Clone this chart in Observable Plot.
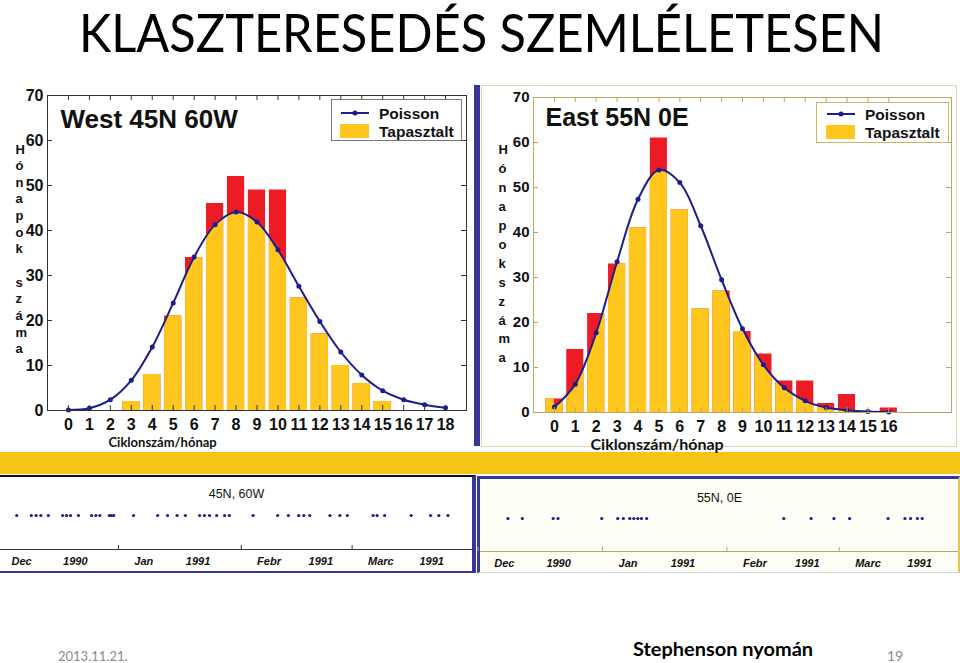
<!DOCTYPE html>
<html><head><meta charset="utf-8">
<script src="https://cdn.jsdelivr.net/npm/d3@7"></script>
<script src="https://cdn.jsdelivr.net/npm/@observablehq/plot@0.6"></script>
<style>
body{margin:0;background:#fff;}
#page{position:relative;width:960px;height:663px;overflow:hidden;background:#fff;font-family:"Liberation Sans",Arial,sans-serif;}
.abs{position:absolute;}
</style></head><body><div id="page"></div>
<script>
// ---------- data ----------
const titleText = "KLASZTERESEDÉS SZEMLÉLETESEN";
const westTitle = "West 45N 60W";
const eastTitle = "East 55N 0E";
const xAxisLabel = "Ciklonszám/hónap";
const yLabelWest = ["H","ó","n","a","p","o","k","\u00a0","s","z","á","m","a"];
const yLabelEast = ["H","ó","n","a","p","o","k","s","z","á","m","a"];
const legendPoisson = "Poisson";
const legendObserved = "Tapasztalt";

const westK = [0,1,2,3,4,5,6,7,8,9,10,11,12,13,14,15,16,17,18];
const westObserved = [0,0,0,2,8,21,34,46,52,49,49,25,17,10,6,2,0,0,0];
const westPoisson = [0.1,0.5,2.4,6.7,14.1,23.9,34.1,41.3,44.1,41.9,35.7,27.6,19.8,13.0,7.9,4.4,2.4,1.3,0.6];

const eastK = [0,1,2,3,4,5,6,7,8,9,10,11,12,13,14,15,16];
const eastObserved = [3,14,22,33,41,61,45,23,27,18,13,7,7,2,4,0,1];
const eastPoisson = [1.2,6.3,17.7,33.5,47.4,53.9,51.1,41.5,29.5,18.6,10.6,5.5,2.6,1.1,0.5,0.2,0.1];

const westXTicks = [0,1,2,3,4,5,6,7,8,9,10,11,12,13,14,15,16,17,18];
const eastXTicks = [0,1,2,3,4,5,6,7,8,9,10,11,12,13,14,15,16];
const yTicks = [0,10,20,30,40,50,60,70];

// cyclone passages, days after 1 Dec 1990
const westStripTitle = "45N, 60W";
const eastStripTitle = "55N, 0E";
const westDays = [5.3,9.0,10.2,11.4,13.3,16.9,17.9,18.9,20.9,24.2,25.3,26.3,28.7,29.2,29.8,34.8,40.9,43.4,45.8,47.9,51.5,52.7,54.0,55.8,57.8,59.0,65.0,71.2,73.9,76.5,77.8,79.3,84.4,86.9,88.8,95.3,96.3,98.2,104.9,109.8,111.9,114.2];
const eastDays = [7.4,11.0,18.7,19.9,30.8,34.8,36.2,37.8,38.8,39.8,40.7,42.0,76.2,83.0,88.7,92.6,102.2,106.4,107.8,109.5,110.7];
const monthStarts = ["1990-12-01","1991-01-01","1991-02-01","1991-03-01"];
const monthNames = ["Dec","Jan","Febr","Marc"];
const monthYears = ["1990","1991","1991","1991"];
const periodStart = "1990-12-01";
const periodEnd = "1991-04-01";

const footerDate = "2013.11.21.";
const footerSource = "Stephenson nyomán";
const footerPage = "19";

// ---------- styles ----------
const RED = "#ED1C24", YELLOW = "#FFC61E", NAVY = "#1C1C8E", BORDER = "#35359A", BAND = "#F6C417";
const page = document.getElementById("page");
function box(x,y,w,h,css){const d=document.createElement("div");d.className="abs";Object.assign(d.style,{left:x+"px",top:y+"px",width:w+"px",height:h+"px"},css||{});page.appendChild(d);return d;}

// title
const tb = box(0,0,960,70);
tb.innerHTML = `<svg width="960" height="70"><text x="79" y="52" font-family="Lato" font-size="53" textLength="805" lengthAdjust="spacingAndGlyphs" fill="#000">${titleText}</text></svg>`;

// band (drawn first so chart labels stay on top)
box(0,452,960,22,{background:BAND});

// ---------- histogram charts ----------
let clipId = 0;
function histChart(o){
  const rows = o.k.map((k,i)=>({k, obs:o.obs[i], poi:o.poi[i]}));
  const fh = o.height-o.mt-o.mb, fw = o.width-o.ml-o.mr;
  const svg = Plot.plot({
    width:o.width, height:o.height, marginLeft:o.ml, marginRight:o.mr, marginTop:o.mt, marginBottom:o.mb,
    style:{background:"transparent", fontFamily:"Liberation Sans, Arial, sans-serif", fontWeight:"bold", overflow:"visible", color:"#111"},
    x:{domain:[-1,19], axis:null},
    y:{domain:[0,70], axis:null},
    marks:[
      Plot.rectY(rows,{x1:d=>d.k-0.41, x2:d=>d.k+0.41, y:"obs", fill:RED}),
      Plot.rectY(rows,{x1:d=>d.k-0.41, x2:d=>d.k+0.41, y:"obs", fill:YELLOW}),
      Plot.line(rows,{x:"k", y:"poi", stroke:NAVY, strokeWidth:2, curve:"catmull-rom"}),
      Plot.dot(rows,{x:"k", y:"poi", r:2.5, fill:NAVY}),
      Plot.frame({stroke:o.frameColor}),
      Plot.tickX(o.xTicks,{x:d=>d, insetTop:fh-5, stroke:o.frameColor}),
      Plot.tickX(o.xTicks,{x:d=>d, insetBottom:fh-5, stroke:o.frameColor}),
      Plot.tickY(yTicks,{y:d=>d, insetLeft:fw-5, stroke:o.frameColor}),
      Plot.tickY(yTicks,{y:d=>d, insetRight:fw-5, stroke:o.frameColor}),
      Plot.axisX(o.xTicks,{tickSize:0, tickPadding:8, fontSize:16, label:null}),
      Plot.axisY(yTicks,{tickSize:0, tickPadding:4, fontSize:o.yFont, label:null}),
      Plot.text([o.title],{frameAnchor:"top-left", lineAnchor:"middle", dx:o.tdx, dy:o.tdy, textAnchor:"start", fontSize:o.tFont}),
      Plot.text([o.ylabel.join("\n")],{frameAnchor:"left", lineAnchor:"middle", dx:o.ydx, dy:o.ydy, lineHeight:o.ylh, fontSize:13}),
      Plot.text([xAxisLabel],{frameAnchor:"bottom-left", lineAnchor:"middle", dx:o.xdx, dy:o.xdy, textAnchor:"start", fontFamily:"Lato", fontSize:o.xFont})
    ]
  });
  // yellow = observed part under the Poisson curve
  const line = svg.querySelector('g[aria-label="line"] path');
  const d = line.getAttribute("d");
  const nums = d.match(/-?\d*\.?\d+(?:e[-+]?\d+)?/g).map(Number);
  const x0 = nums[0], xl = nums[nums.length-2];
  const ft=o.mt, fb=o.height-o.mb, fl=o.ml;
  const p = `M${fl},${ft}L${x0},${ft}L${d.slice(1)}L${xl},${fb}L${fl},${fb}Z`;
  const ns="http://www.w3.org/2000/svg";
  const defs=document.createElementNS(ns,"defs"), cp=document.createElementNS(ns,"clipPath"), pp=document.createElementNS(ns,"path");
  const id="clipy"+(clipId++);
  cp.setAttribute("id",id); pp.setAttribute("d",p); cp.appendChild(pp); defs.appendChild(cp); svg.insertBefore(defs,svg.firstChild);
  svg.querySelectorAll('g[aria-label="rect"]')[1].setAttribute("clip-path",`url(#${id})`);
  return svg;
}

const west = histChart({k:westK, obs:westObserved, poi:westPoisson, xTicks:westXTicks,
  width:474, height:367, ml:47, mr:8, mt:10, mb:42, frameColor:"#333",
  title:westTitle, tdx:13, tdy:24, tFont:26, ylabel:yLabelWest, ydx:-32, ydy:-5, ylh:1.28,
  xdx:61, xdy:32, xFont:13, yFont:16});
box(0,85,474,367).appendChild(west);

const east = histChart({k:eastK, obs:eastObserved, poi:eastPoisson, xTicks:eastXTicks,
  width:479, height:367, ml:52, mr:9, mt:12, mb:40, frameColor:"#b9a863",
  title:eastTitle, tdx:12, tdy:20, tFont:25, ylabel:yLabelEast, ydx:-35, ydy:-3, ylh:1.46,
  xdx:57, xdy:32, xFont:16, yFont:15});
box(481,85,476,362,{border:"1px solid #ddd5b0",boxSizing:"border-box",pointerEvents:"none"});
box(481,85,479,367).appendChild(east);

// legends
function legend(x,y,w,h,border,lx,ly){
  const b = box(x,y,w,h,{border:`1px solid ${border}`,boxSizing:"border-box",background:"#fff",overflow:"hidden"});
  b.innerHTML = `<svg width="${w}" height="${h}" style="font-family:'Liberation Sans',Arial,sans-serif;font-weight:bold">
   <line x1="${lx}" x2="${lx+28}" y1="${ly}" y2="${ly}" stroke="${NAVY}" stroke-width="2"/>
   <circle cx="${lx+14}" cy="${ly}" r="2.5" fill="${NAVY}"/>
   <rect x="${lx-1}" y="${ly+11}" width="29" height="14" fill="${YELLOW}"/>
   <text x="${lx+38}" y="${ly+5.5}" font-size="15.5" fill="#111">${legendPoisson}</text>
   <text x="${lx+38}" y="${ly+23.5}" font-size="15.5" fill="#111">${legendObserved}</text></svg>`;
}
legend(331,99,131,42,"#777",9,13);
legend(816,102,133,41,"#c9b468",10,11);

// divider between the two histograms
box(474,85,6,361,{background:BORDER});

// ---------- strip charts ----------
function stripChart(o){
  const base = new Date(periodStart);
  return Plot.plot({
    width:o.width, height:o.height, marginLeft:0, marginRight:0, marginTop:0, marginBottom:o.mb,
    style:{background:"transparent", fontFamily:"Liberation Sans, Arial, sans-serif", overflow:"visible", color:"#111"},
    x:{type:"utc", domain:[new Date(periodStart), new Date(periodEnd)], range:o.range, axis:null},
    y:{domain:[0,1], axis:null},
    marks:[
      Plot.ruleY([0],{stroke:o.axisColor, strokeWidth:1.2}),
      Plot.tickX(monthStarts,{x:d=>new Date(d), insetTop:o.height-o.mb-4, stroke:o.axisColor}),
      Plot.dot(o.days,{x:d=>new Date(+base+d*864e5), r:1.6, fill:NAVY, dy:o.ddy}),
      Plot.text([o.title],{frameAnchor:"top", lineAnchor:"middle", dy:o.tdy, fontSize:12.5, fill:"#111"}),
      Plot.text(monthNames,{x:(d,i)=>new Date(+new Date(monthStarts[i])+4*864e5), frameAnchor:"bottom", lineAnchor:"middle", dy:12, textAnchor:"start", fontStyle:"italic", fontWeight:"bold", fontSize:11}),
      Plot.text(monthYears,{x:(d,i)=>new Date(+new Date(monthStarts[i])+17*864e5), frameAnchor:"bottom", lineAnchor:"middle", dy:12, textAnchor:"start", fontStyle:"italic", fontWeight:"bold", fontSize:11})
    ]
  });
}
const lp = box(0,475,476,98,{background:"#fff",borderTop:"2px solid #111",borderRight:`4px solid ${BORDER}`,borderBottom:`2px solid ${BORDER}`,boxSizing:"border-box"});
const ws = stripChart({width:472,height:94,mb:22,range:[-4.8,474.4],days:westDays,title:westStripTitle,tdy:16,ddy:2,axisColor:"#333"});
ws.style.position="absolute"; ws.style.left="0px"; ws.style.top="0px"; lp.appendChild(ws);

const rp = box(477,476,483,97,{background:"#fffef6",borderTop:`3px solid ${BORDER}`,borderLeft:`3px solid ${BORDER}`,borderRight:"2px solid #e8c54a",borderBottom:"1px solid #cfd3e0",boxSizing:"border-box"});
const es = stripChart({width:478,height:92,mb:20,range:[-2.3,483],days:eastDays,title:eastStripTitle,tdy:18,ddy:3,axisColor:"#b9a863"});
es.style.position="absolute"; es.style.left="0px"; es.style.top="0px"; rp.appendChild(es);

// footer
const fb = box(0,620,960,43);
fb.innerHTML = `<svg width="960" height="43">
 <text x="58" y="41" font-family="Lato" font-size="13" fill="#8a8a8a">${footerDate}</text>
 <text x="633" y="36" font-family="Lato" font-weight="bold" font-size="19" textLength="180" lengthAdjust="spacingAndGlyphs" fill="#000">${footerSource}</text>
 <text x="887" y="41" font-family="Lato" font-size="14" fill="#8a8a8a">${footerPage}</text></svg>`;
</script></body></html>
